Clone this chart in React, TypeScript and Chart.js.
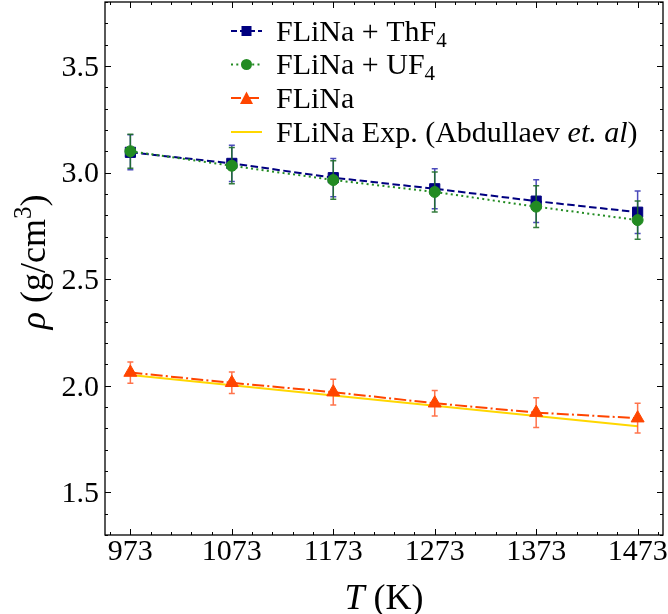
import React, { useEffect, useRef } from "react";
import { Chart, registerables } from "chart.js";

Chart.register(...registerables);

// ---- data ----
const TEMPS = [973, 1073, 1173, 1273, 1373, 1473];
const THF4 = [3.095, 3.043, 2.976, 2.924, 2.866, 2.814];
const THF4_ERR = [0.082, 0.085, 0.09, 0.094, 0.1, 0.1];
const UF4 = [3.1, 3.032, 2.965, 2.909, 2.84, 2.777];
const UF4_ERR = [0.08, 0.085, 0.09, 0.094, 0.098, 0.09];
const FLINA = [2.062, 2.014, 1.97, 1.918, 1.874, 1.848];
const FLINA_ERR = [0.05, 0.05, 0.06, 0.06, 0.07, 0.07];
const EXP = [2.05, 2.002, 1.954, 1.906, 1.858, 1.81];

const X_TICKS = [973, 1073, 1173, 1273, 1373, 1473];
const X_TICK_LABELS = ["973", "1073", "1173", "1273", "1373", "1473"];
const Y_TICKS = [1.5, 2.0, 2.5, 3.0, 3.5];
const Y_TICK_LABELS = ["1.5", "2.0", "2.5", "3.0", "3.5"];
const X_MIN = 948;
const X_MAX = 1498;
const Y_MIN = 1.3;
const Y_MAX = 3.8;

const LEGEND_LABELS: [string, string][][] = [
  [["FLiNa + ThF", "n"], ["4", "sub"]],
  [["FLiNa + UF", "n"], ["4", "sub"]],
  [["FLiNa", "n"]],
  [["FLiNa Exp. (Abdullaev ", "n"], ["et. al", "it"], [")", "n"]],
];

const FONT = '"Liberation Serif", "DejaVu Serif", serif';
const NAVY = "#000080";
const GREEN = "#228B22";
const ORANGE = "#FF4500";
const GOLD = "#FFD700";

const TICK_FONT = 30;
const LEGEND_FONT = 30;
const TITLE_FONT = 36;

function pts(ys: number[]) {
  return TEMPS.map((t, i) => ({ x: t, y: ys[i] }));
}

function minorList(min: number, max: number, start: number, step: number) {
  const out: number[] = [];
  for (let k = 0; ; k++) {
    const v = Math.round((start + k * step) * 1000) / 1000;
    if (v > max + 1e-9) break;
    if (v >= min - 1e-9) out.push(v);
  }
  return out;
}
const X_ALL = minorList(X_MIN, X_MAX, 953, 20);
const Y_ALL = minorList(Y_MIN, Y_MAX, 1.3, 0.1);

function isMajor(list: number[], v: number) {
  return list.some((t) => Math.abs(t - v) < 1e-6);
}

const errorPlugin = {
  id: "errbars",
  beforeDatasetDraw(chart: any, args: any) {
    const ds = chart.data.datasets[args.index];
    if (!ds.errors) return;
    const ctx = chart.ctx;
    const xs = chart.scales.x;
    const ys = chart.scales.y;
    ctx.save();
    ctx.strokeStyle = ds.errColor;
    ctx.lineWidth = 1.5;
    ctx.setLineDash([]);
    ds.data.forEach((p: any, i: number) => {
      const e = ds.errors[i];
      const px = xs.getPixelForValue(p.x);
      const top = ys.getPixelForValue(p.y + e);
      const bot = ys.getPixelForValue(p.y - e);
      ctx.beginPath();
      ctx.moveTo(px, top);
      ctx.lineTo(px, bot);
      ctx.moveTo(px - 3, top);
      ctx.lineTo(px + 3, top);
      ctx.moveTo(px - 3, bot);
      ctx.lineTo(px + 3, bot);
      ctx.stroke();
    });
    ctx.restore();
  },
};

const framePlugin = {
  id: "frame",
  afterDatasetsDraw(chart: any) {
    const ctx = chart.ctx;
    const a = chart.chartArea;
    const xs = chart.scales.x;
    const ys = chart.scales.y;
    ctx.save();
    ctx.strokeStyle = "#000";
    ctx.setLineDash([]);
    ctx.lineWidth = 1;
    X_ALL.forEach((v) => {
      const px = Math.round(xs.getPixelForValue(v)) + 0.5;
      const L = isMajor(X_TICKS, v) ? 6 : 3;
      ctx.beginPath();
      ctx.moveTo(px, a.bottom);
      ctx.lineTo(px, a.bottom - L);
      ctx.moveTo(px, a.top);
      ctx.lineTo(px, a.top + L);
      ctx.stroke();
    });
    Y_ALL.forEach((v) => {
      const py = Math.round(ys.getPixelForValue(v)) + 0.5;
      const L = isMajor(Y_TICKS, v) ? 6 : 3;
      ctx.beginPath();
      ctx.moveTo(a.left, py);
      ctx.lineTo(a.left + L, py);
      ctx.moveTo(a.right, py);
      ctx.lineTo(a.right - L, py);
      ctx.stroke();
    });
    ctx.lineWidth = 1.3;
    ctx.strokeRect(a.left, a.top, a.right - a.left, a.bottom - a.top);

    // tick labels
    ctx.fillStyle = "#000";
    ctx.font = `${TICK_FONT}px ${FONT}`;
    ctx.textAlign = "center";
    ctx.textBaseline = "alphabetic";
    X_TICKS.forEach((v, i) => {
      ctx.fillText(X_TICK_LABELS[i], xs.getPixelForValue(v), a.bottom + 25);
    });
    ctx.textAlign = "right";
    Y_TICKS.forEach((v, i) => {
      ctx.fillText(Y_TICK_LABELS[i], a.left - 6, ys.getPixelForValue(v) + TICK_FONT * 0.33);
    });
    ctx.restore();
  },
};

function drawSegments(ctx: any, segs: [string, string][], x: number, y: number, size: number, align: "left" | "center") {
  const fontFor = (kind: string) => {
    if (kind === "sub" || kind === "sup") return `${Math.round(size * 0.7)}px ${FONT}`;
    if (kind === "it") return `italic ${size}px ${FONT}`;
    return `${size}px ${FONT}`;
  };
  let total = 0;
  segs.forEach(([t, k]) => {
    ctx.font = fontFor(k);
    total += ctx.measureText(t).width;
  });
  let cx = align === "center" ? x - total / 2 : x;
  ctx.textBaseline = "alphabetic";
  ctx.textAlign = "left";
  const base = y + size * 0.33;
  segs.forEach(([t, k]) => {
    ctx.font = fontFor(k);
    let by = base;
    if (k === "sub") by = base + size * 0.2;
    if (k === "sup") by = base - size * 0.38;
    ctx.fillText(t, cx, by);
    cx += ctx.measureText(t).width;
  });
}

const HANDLES = [
  { color: NAVY, dash: [6, 3], marker: "square" },
  { color: GREEN, dash: [2, 3.3], marker: "circle" },
  { color: ORANGE, dash: [10, 3, 2, 3], marker: "triangle" },
  { color: GOLD, dash: [], marker: "none" },
];

const legendPlugin = {
  id: "mplLegend",
  afterDraw(chart: any) {
    const ctx = chart.ctx;
    const rows = [31, 64.5, 98, 132];
    const x0 = 231;
    const x1 = 262;
    const xm = 246.5;
    const tx = 276;
    ctx.save();
    HANDLES.forEach((h, i) => {
      const y = rows[i];
      ctx.strokeStyle = h.color;
      ctx.lineWidth = 2;
      ctx.setLineDash(h.dash);
      ctx.beginPath();
      ctx.moveTo(x0, y);
      ctx.lineTo(x1, y);
      ctx.stroke();
      ctx.setLineDash([]);
      ctx.fillStyle = h.color;
      if (h.marker === "square") {
        ctx.fillRect(xm - 5, y - 5, 10, 10);
      } else if (h.marker === "circle") {
        ctx.beginPath();
        ctx.arc(xm, y, 5.5, 0, Math.PI * 2);
        ctx.fill();
      } else if (h.marker === "triangle") {
        ctx.beginPath();
        ctx.moveTo(xm, y - 6.5);
        ctx.lineTo(xm - 6.5, y + 6);
        ctx.lineTo(xm + 6.5, y + 6);
        ctx.closePath();
        ctx.fill();
      }
      ctx.fillStyle = "#000";
      drawSegments(ctx, LEGEND_LABELS[i], tx, y, LEGEND_FONT, "left");
    });
    ctx.restore();
  },
};

const titlesPlugin = {
  id: "titles",
  afterDraw(chart: any) {
    const ctx = chart.ctx;
    const a = chart.chartArea;
    ctx.save();
    ctx.fillStyle = "#000";
    drawSegments(ctx, [["T", "it"], [" (K)", "n"]], (a.left + a.right) / 2, 597, TITLE_FONT, "center");
    ctx.translate(33, 262);
    ctx.rotate(-Math.PI / 2);
    drawSegments(ctx, [["ρ", "it"], [" (g/cm", "n"], ["3", "sup"], [")", "n"]], 0, 0, TITLE_FONT, "center");
    ctx.restore();
  },
};

export default function App() {
  const ref = useRef<HTMLCanvasElement>(null);
  useEffect(() => {
    const canvas = ref.current!;
    const common = { tension: 0, fill: false, showLine: true, pointHoverRadius: 0 };
    const chart = new Chart(canvas, {
      type: "line",
      data: {
        datasets: [
          {
            ...common,
            label: "FLiNa + ThF4",
            data: pts(THF4),
            borderColor: NAVY,
            backgroundColor: NAVY,
            pointBorderColor: NAVY,
            borderDash: [7.5, 3.5],
            borderWidth: 2,
            pointStyle: "rect",
            pointRadius: 7.2,
            pointBorderWidth: 1,
            order: 4,
            errors: THF4_ERR,
            errColor: "rgba(30,30,170,0.8)",
          },
          {
            ...common,
            label: "FLiNa + UF4",
            data: pts(UF4),
            borderColor: GREEN,
            backgroundColor: GREEN,
            pointBorderColor: GREEN,
            borderDash: [2, 3.3],
            borderWidth: 2,
            pointStyle: "circle",
            pointRadius: 5.5,
            pointBorderWidth: 1,
            order: 3,
            errors: UF4_ERR,
            errColor: "rgba(30,110,40,0.9)",
          },
          {
            ...common,
            label: "FLiNa",
            data: pts(FLINA),
            borderColor: ORANGE,
            backgroundColor: ORANGE,
            pointBorderColor: ORANGE,
            borderDash: [12, 3.2, 2, 3.2],
            borderWidth: 2,
            pointStyle: "triangle",
            pointRadius: 7.5,
            pointBorderWidth: 1,
            order: 2,
            errors: FLINA_ERR,
            errColor: "rgba(255,80,30,0.8)",
          },
          {
            ...common,
            label: "FLiNa Exp. (Abdullaev et. al)",
            data: pts(EXP),
            borderColor: GOLD,
            backgroundColor: GOLD,
            borderWidth: 2,
            pointRadius: 0,
            order: 5,
          },
        ] as any,
      },
      options: {
        responsive: false,
        animation: false,
        events: [],
        layout: { autoPadding: false, padding: { left: 0, right: 5, top: 2, bottom: 0 } },
        plugins: { legend: { display: false }, tooltip: { enabled: false } },
        scales: {
          x: {
            type: "linear",
            min: X_MIN,
            max: X_MAX,
            grid: { display: false, drawTicks: false },
            border: { display: false },
            ticks: { display: false },
            afterFit: (s: any) => {
              s.height = 79;
              s.paddingLeft = 0;
              s.paddingRight = 0;
            },
          },
          y: {
            type: "linear",
            min: Y_MIN,
            max: Y_MAX,
            grid: { display: false, drawTicks: false },
            border: { display: false },
            ticks: { display: false },
            afterFit: (s: any) => {
              s.width = 105;
              s.paddingTop = 0;
              s.paddingBottom = 0;
            },
          },
        },
      } as any,
      plugins: [errorPlugin, framePlugin, legendPlugin, titlesPlugin],
    });
    return () => chart.destroy();
  }, []);
  return (
    <div style={{ position: "fixed", left: 0, top: 0, width: 668, height: 614, background: "#fff" }}>
      <canvas ref={ref} width={668} height={614} style={{ display: "block", width: 668, height: 614 }} />
    </div>
  );
}
